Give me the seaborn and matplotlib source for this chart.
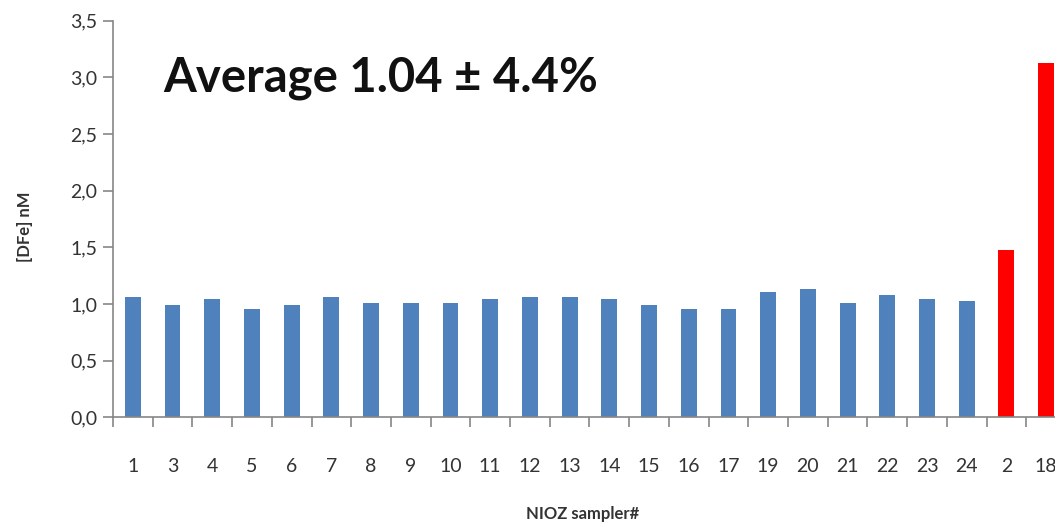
import matplotlib
matplotlib.use("Agg")
import matplotlib.pyplot as plt
import matplotlib.ticker as mticker
import seaborn as sns
import pandas as pd

samplers = ["1", "3", "4", "5", "6", "7", "8", "9", "10", "11", "12", "13",
            "14", "15", "16", "17", "19", "20", "21", "22", "23", "24", "2", "18"]
dfe_nM = [1.06, 0.99, 1.04, 0.955, 0.99, 1.06, 1.01, 1.01, 1.01, 1.04, 1.06, 1.06,
          1.04, 0.99, 0.955, 0.955, 1.11, 1.13, 1.01, 1.08, 1.04, 1.025, 1.48, 3.13]
group = ["normal"] * 22 + ["outlier"] * 2
group_colors = {"normal": "#4F81BD", "outlier": "#FF0000"}

df = pd.DataFrame({"sampler": samplers, "dfe": dfe_nM, "group": group})

sns.set_theme(style="white")
plt.rcParams["font.family"] = ["Lato", "DejaVu Sans"]

fig = plt.figure(figsize=(10.55, 5.28), dpi=100)
ax = fig.add_axes([0.1071, 0.2097, 0.9033, 0.7508])

sns.barplot(data=df, x="sampler", y="dfe", hue="group", palette=group_colors,
            order=samplers, width=0.4, dodge=False, legend=False, ax=ax,
            saturation=1, edgecolor="none")

ax.set_ylim(0, 3.5)
ax.set_xlim(-0.5, len(samplers) - 0.5)
ax.yaxis.set_major_locator(mticker.MultipleLocator(0.5))
ax.yaxis.set_major_formatter(mticker.FuncFormatter(lambda v, p: f"{v:.1f}".replace(".", ",")))

ax.set_xticks(range(len(samplers)))
ax.set_xticklabels(samplers)
ax.set_xticks([i - 0.5 for i in range(len(samplers) + 1)], minor=True)
ax.tick_params(axis="x", which="major", length=0, pad=29, labelsize=14,
               labelcolor="#333333", bottom=True)
ax.tick_params(axis="x", which="minor", length=7, width=1.2, color="#868686",
               direction="out", bottom=True)
ax.tick_params(axis="y", which="major", length=7, width=1.2, color="#868686",
               direction="out", labelsize=14, labelcolor="#333333", pad=4.5, left=True)

for s in ["top", "right"]:
    ax.spines[s].set_visible(False)
for s in ["left", "bottom"]:
    ax.spines[s].set_color("#868686")
    ax.spines[s].set_linewidth(1.2)

ax.set_xlabel("NIOZ sampler#", fontsize=12, fontweight="bold", color="#333333")
ax.xaxis.set_label_coords(0.493, -0.225)
ax.set_ylabel("[DFe] nM", fontsize=12, fontweight="bold", color="#333333")
ax.yaxis.set_label_coords(-0.084, 0.48)

ax.text(0.053, 0.821, "Average 1.04 ± 4.4%", transform=ax.transAxes,
        fontsize=34, fontweight="bold", color="#111111", va="baseline", ha="left")

fig.savefig("out.png", dpi=100)
